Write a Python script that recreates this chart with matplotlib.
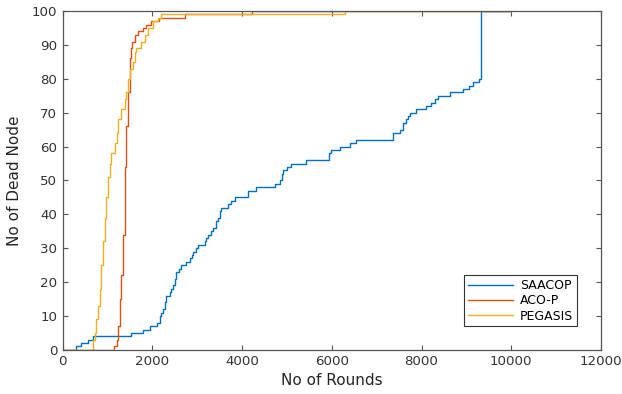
import matplotlib
matplotlib.use("Agg")
import matplotlib.pyplot as plt

# step change points: (round, dead nodes)
saacop_x = [0, 305, 400, 560, 680, 1530, 1790, 1940, 2090, 2160, 2200, 2240, 2280,
            2310, 2385, 2420, 2460, 2500, 2534, 2600, 2645, 2757, 2830, 2870, 2905,
            2960, 3016, 3165, 3200, 3240, 3313, 3360, 3425, 3470, 3500, 3537, 3685,
            3760, 3833, 4130, 4317, 4725, 4836, 4880, 4910, 5000, 5097, 5431, 5930,
            5990, 6173, 6396, 6545, 7362, 7511, 7584, 7650, 7700, 7733, 7883, 8106,
            8217, 8300, 8365, 8625, 8922, 9070, 9145, 9293, 9316, 10000]
saacop_y = [0, 1, 2, 3, 4, 5, 6, 7, 8, 10, 11, 12, 14,
            16, 17, 18, 19, 21, 23, 24, 25, 26, 27, 28, 29,
            30, 31, 32, 33, 34, 35, 36, 38, 39, 41, 42, 43,
            44, 45, 47, 48, 49, 50, 52, 53, 54, 55, 56, 58,
            59, 60, 61, 62, 64, 65, 67, 68, 69, 70, 71, 72,
            73, 74, 75, 76, 77, 78, 79, 80, 100, 100]

acop_x = [0, 1100, 1150, 1200, 1230, 1270, 1300, 1345, 1380, 1420, 1455, 1490,
          1520, 1545, 1605, 1680, 1785, 1865, 1975, 2150, 2720, 4230, 10000]
acop_y = [0, 0, 1, 3, 7, 15, 22, 34, 54, 66, 76, 86,
          89, 91, 93, 94, 95, 96, 97, 98, 99, 100, 100]

pegasis_x = [0, 640, 680, 713, 750, 787, 820, 862, 900, 936, 970, 1010, 1050,
             1085, 1160, 1200, 1233, 1308, 1382, 1420, 1450, 1493, 1567, 1600,
             1642, 1753, 1828, 1900, 2012, 2124, 2200, 6300, 10000]
pegasis_y = [0, 0, 3, 5, 9, 13, 18, 25, 32, 39, 45, 51, 55,
             58, 61, 64, 68, 71, 74, 76, 80, 83, 85, 88,
             89, 91, 93, 95, 97, 98, 99, 100, 100]

names = ["SAACOP", "ACO-P", "PEGASIS"]
colors = ["#0072BD", "#D95319", "#EDB120"]

plt.rcParams["font.family"] = "DejaVu Sans"
fig = plt.figure(figsize=(6.22, 3.94), dpi=100)
ax = fig.add_axes([0.101, 0.112, 0.865, 0.86])

for xs, ys, name, c in zip([saacop_x, acop_x, pegasis_x],
                           [saacop_y, acop_y, pegasis_y], names, colors):
    ax.plot(xs, ys, drawstyle="steps-post", color=c, lw=1.0, label=name)

ax.set_xlim(0, 12000)
ax.set_ylim(0, 100)
ax.set_xticks(range(0, 12001, 2000))
ax.set_yticks(range(0, 101, 10))
ax.tick_params(direction="in", top=True, right=True, length=3.5, width=0.8,
               labelsize=9.6, colors="#555555", labelcolor="#333333", pad=4)
for s in ax.spines.values():
    s.set_color("#555555")
    s.set_linewidth(0.9)

ax.set_xlabel("No of Rounds", fontsize=11, color="#262626", labelpad=3)
ax.set_ylabel("No of Dead Node", fontsize=11, color="#262626", labelpad=7)

leg = ax.legend(loc="lower right", bbox_to_anchor=(0.956, 0.069), fontsize=9,
                fancybox=False, framealpha=1, edgecolor="#333333",
                handlelength=3.6, borderpad=0.3, labelspacing=0.18,
                handletextpad=0.6, borderaxespad=0)
leg.get_frame().set_linewidth(0.8)

fig.savefig("out.png", dpi=100)
